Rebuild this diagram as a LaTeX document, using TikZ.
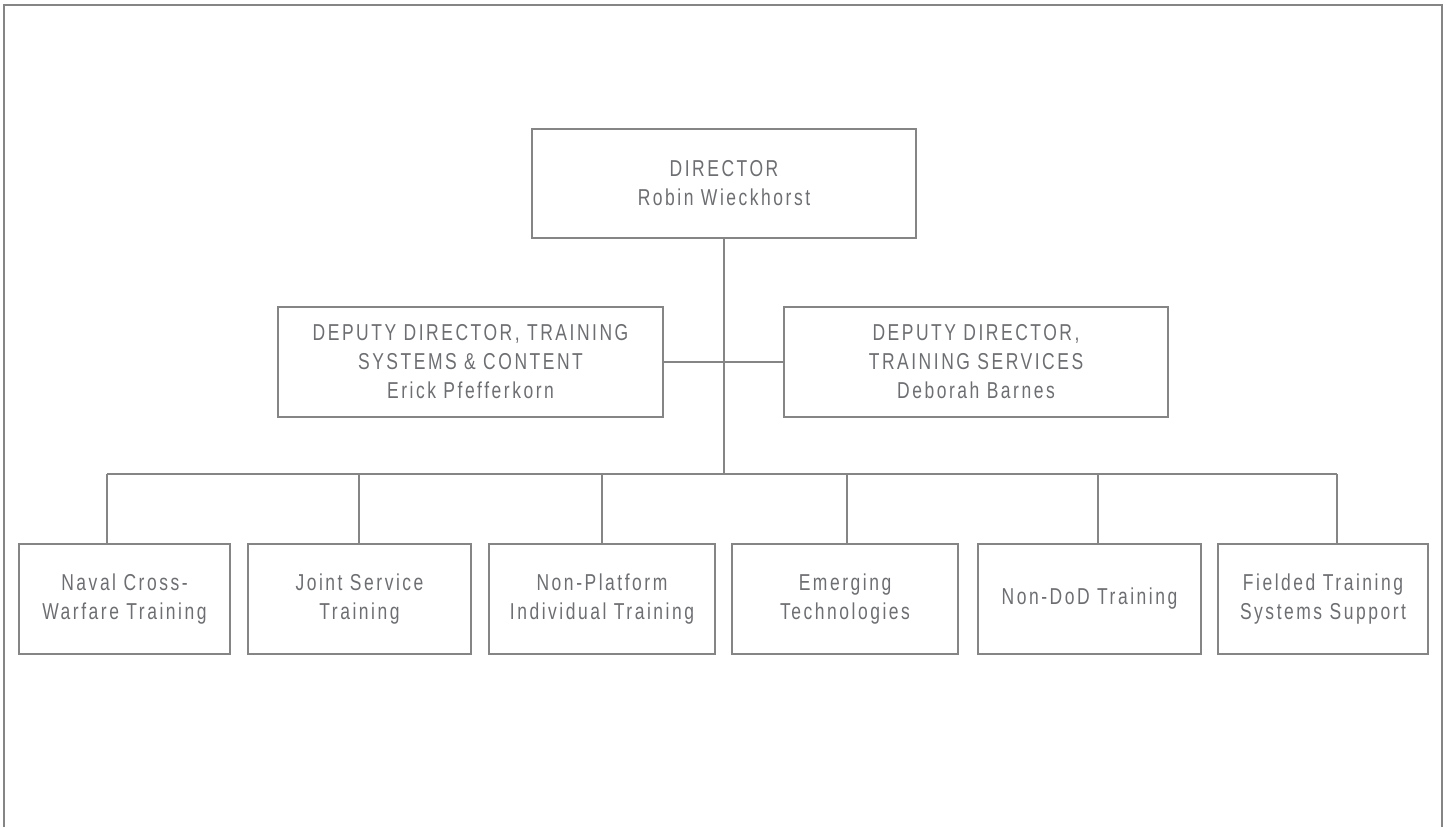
\documentclass[tikz,border=0pt]{standalone}
\usepackage{fontspec}
\setmainfont{Liberation Sans}[FakeStretch=0.76,LetterSpace=11]
\definecolor{txtgray}{HTML}{6D6E71}
\definecolor{linegray}{HTML}{858585}
\begin{document}
\begin{tikzpicture}[x=1pt,y=-1pt,
  box/.style={draw=linegray,line width=1.4pt,rectangle,inner sep=0pt,align=center,
    text=txtgray,font=\fontsize{23}{29}\selectfont,minimum height=110pt},
  conn/.style={draw=linegray,line width=1.4pt}]
\useasboundingbox (0,0) rectangle (1450,827);
\draw[conn] (4,827) -- (4,5) -- (1442,5) -- (1442,827);
\node[box,minimum width=384pt,minimum height=109pt] (dir) at (724,183.5) {DIRECTOR\\Robin Wieckhorst};
\node[box,minimum width=385pt] (dl) at (470.5,362) {DEPUTY DIRECTOR, TRAINING\\SYSTEMS \& CONTENT\\Erick Pfefferkorn};
\node[box,minimum width=384pt] (dr) at (976,362) {DEPUTY DIRECTOR,\\TRAINING SERVICES\\Deborah Barnes};
\node[box,minimum width=211pt] (b1) at (124.5,599) {Naval Cross-\\Warfare Training};
\node[box,minimum width=223pt] (b2) at (359.5,599) {Joint Service\\Training};
\node[box,minimum width=226pt] (b3) at (602,599) {Non-Platform\\Individual Training};
\node[box,minimum width=226pt] (b4) at (845,599) {Emerging\\Technologies};
\node[box,minimum width=223pt] (b5) at (1089.5,599) {Non-DoD Training};
\node[box,minimum width=210pt] (b6) at (1323,599) {Fielded Training\\Systems Support};
\coordinate (hub) at (724,474);
\coordinate (s1) at (107,474);
\coordinate (s2) at (359,474);
\coordinate (s3) at (602,474);
\coordinate (s4) at (847,474);
\coordinate (s5) at (1098,474);
\coordinate (s6) at (1337,474);
\draw[conn] (dir.south) -- (hub);
\draw[conn] (dl.east) -- (dr.west);
\draw[conn] (s1) -- (s6);
\foreach \i in {1,...,6} {\draw[conn] (s\i) -- (s\i |- b\i.north);}
\end{tikzpicture}
\end{document}
